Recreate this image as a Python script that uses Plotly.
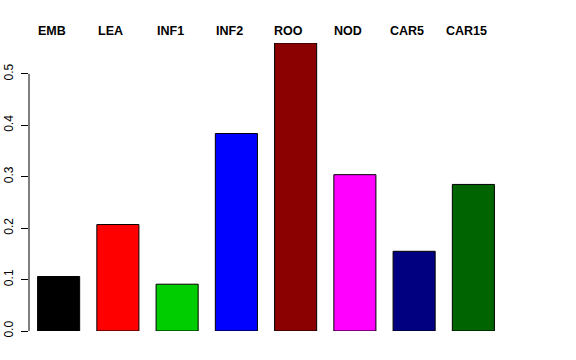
import plotly.graph_objects as go

categories = ["EMB", "LEA", "INF1", "INF2", "ROO", "NOD", "CAR5", "CAR15"]
values = [0.106, 0.207, 0.091, 0.384, 0.560, 0.304, 0.155, 0.285]
colors = ["#000000", "#FF0000", "#00CD00", "#0000FF", "#8B0000", "#FF00FF", "#000080", "#006400"]
tick_vals = [0.0, 0.1, 0.2, 0.3, 0.4, 0.5]
tick_text = ["0.0", "0.1", "0.2", "0.3", "0.4", "0.5"]

FONT = "Liberation Sans, Arial, Helvetica, sans-serif"

fig = go.Figure()
fig.add_trace(go.Bar(
    x=categories,
    y=values,
    marker=dict(color=colors, line=dict(color="#000000", width=1)),
    showlegend=False,
    hoverinfo="x+y",
))

annotations = []
for i, c in enumerate(categories):
    annotations.append(dict(
        x=i - 0.12, y=1.042, xref="x", yref="paper",
        text="<b>" + c + "</b>", showarrow=False,
        xanchor="center", yanchor="middle",
        font=dict(family=FONT, size=12.5, color="#000000"),
    ))

fig.update_layout(
    width=576, height=360,
    margin=dict(l=29, r=73.4, t=42.6, b=29, pad=0, autoexpand=False),
    paper_bgcolor="white", plot_bgcolor="white",
    bargap=0.29,
    annotations=annotations,
    shapes=[dict(type="line", xref="paper", yref="y", x0=0, x1=0,
                 y0=tick_vals[0], y1=tick_vals[-1],
                 line=dict(color="#000000", width=1))],
    xaxis=dict(
        showticklabels=False, ticks="", showline=False, showgrid=False,
        zeroline=False, range=[-0.5, len(categories) - 0.5], automargin=False,
    ),
    yaxis=dict(
        range=[0, 0.56], tickvals=tick_vals, ticktext=tick_text,
        ticks="outside", ticklen=7, tickcolor="#000000", tickwidth=1,
        tickangle=-90, showline=False, showgrid=False, zeroline=False,
        automargin=False, ticklabelstandoff=3,
        tickfont=dict(family=FONT, size=12, color="#000000"),
    ),
)

fig.write_html("out.html", config={"displayModeBar": False},
               post_script="document.body.style.margin='0';")
